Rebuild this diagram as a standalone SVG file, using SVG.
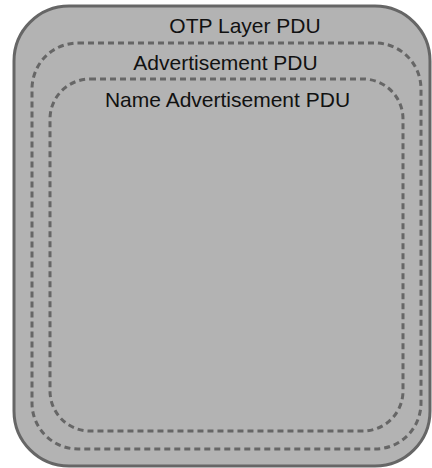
<svg xmlns="http://www.w3.org/2000/svg" width="432" height="468" viewBox="0 0 432 468">
<style>
.outer{fill:#b3b3b3;stroke:#666;stroke-width:3}
.dash{fill:none;stroke:#666;stroke-width:3;stroke-dasharray:6 4}
.lbl{font-family:"Liberation Sans",Arial,sans-serif;font-size:21px;fill:#111;text-anchor:middle}
</style>
<rect width="432" height="468" fill="#fff"/>
<g id="otp-layer-pdu">
<rect class="outer" x="14" y="6" width="416" height="460" rx="55" ry="55"/>
<text class="lbl" x="245" y="33">OTP Layer PDU</text>
</g>
<g id="advertisement-pdu">
<rect class="dash" x="32" y="43" width="389" height="406" rx="46" ry="46"/>
<text class="lbl" x="225.5" y="70">Advertisement PDU</text>
</g>
<g id="name-advertisement-pdu">
<rect class="dash" x="50" y="79" width="353" height="352" rx="40" ry="40"/>
<text class="lbl" x="227.5" y="107">Name Advertisement PDU</text>
</g>
<g id="connectors"></g>
</svg>
